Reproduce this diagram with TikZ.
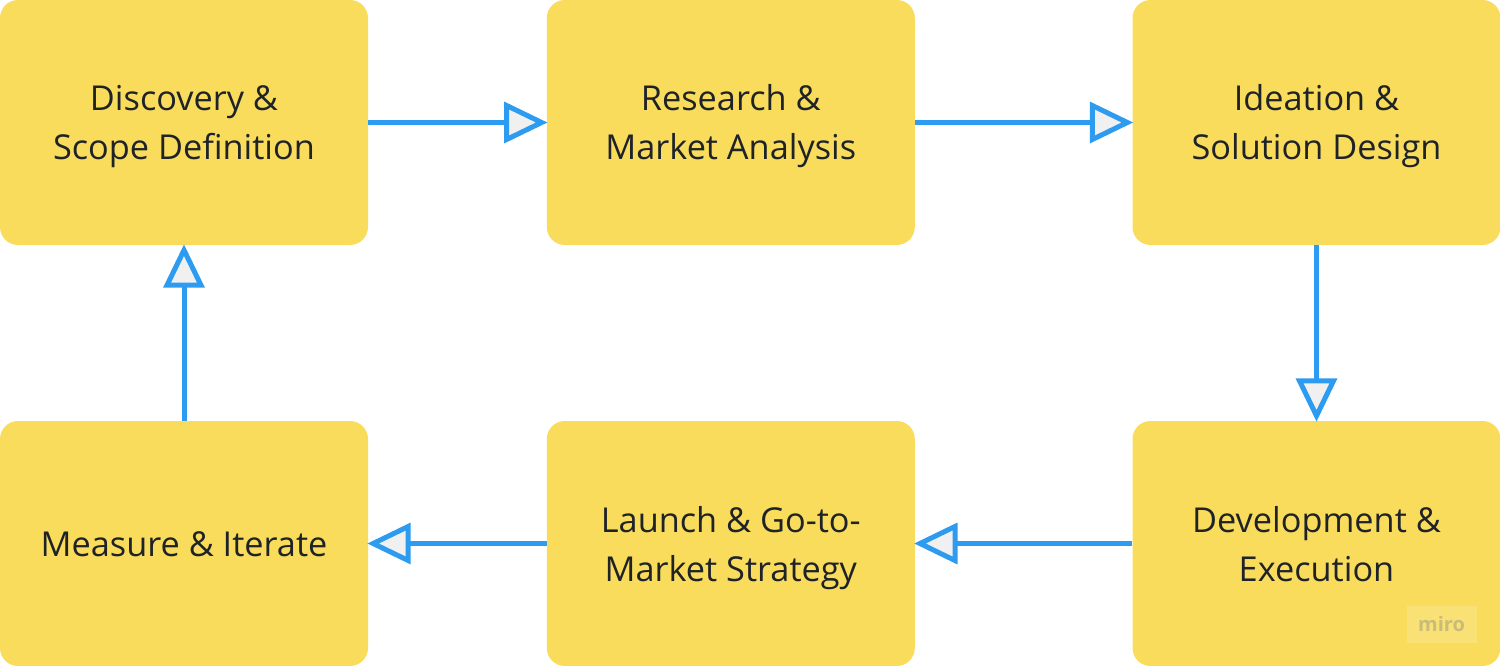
\documentclass[tikz,border=0pt]{standalone}
\usepackage{fontspec}
\setmainfont{Open Sans}
\definecolor{boxy}{HTML}{F9DC5C}
\definecolor{arrowb}{HTML}{2D9BF0}
\definecolor{tipf}{HTML}{F0F0F0}
\definecolor{txt}{HTML}{1F2328}
\definecolor{wmfill}{HTML}{F9E175}
\definecolor{wmtext}{HTML}{C9BC78}
\newcommand{\topstrutA}{\rule{0pt}{33pt}}
\newcommand{\topstrutB}{\rule{0pt}{35pt}}
\newcommand{\botstrut}{\rule[-8pt]{0pt}{8pt}}
\begin{document}
\begin{tikzpicture}[x=1pt,y=-1pt,
 stagebox/.style={fill=boxy,rounded corners=18pt,minimum width=368pt,minimum height=245pt,inner sep=0pt,align=center,font=\fontsize{34.3pt}{49pt}\selectfont,text=txt,anchor=center},
 flow/.style={draw=arrowb,line width=5pt},
 tipshape/.style={draw=arrowb,line width=5pt,fill=tipf,line join=miter}]
\useasboundingbox (0,0) rectangle (1500,666);
\node[stagebox] (a) at (184,122.5) {\topstrutA Discovery \&\\Scope Definition\botstrut};
\node[stagebox] (b) at (730.8,122.5) {\topstrutA Research \&\\Market Analysis\botstrut};
\node[stagebox] (c) at (1316.5,122.5) {\topstrutA Ideation \&\\Solution Design\botstrut};
\node[stagebox] (d) at (1316.5,543.5) {\topstrutB Development \&\\Execution\botstrut};
\node[stagebox] (e) at (730.8,543.5) {\topstrutB Launch \& Go-to-\\Market Strategy\botstrut};
\node[stagebox] (f) at (184,543.5) {\rule{0pt}{33pt}Measure \& Iterate\botstrut};
\node[font=\fontsize{20pt}{20pt}\selectfont\bfseries,text=wmtext,fill=wmfill,minimum width=70pt,minimum height=37pt,inner sep=0pt] (m) at (1441.5,624) {miro};
% connectors: each ends at the base of its hollow tip
\coordinate (abt) at ([xshift=-5pt]b.west);
\coordinate (bct) at ([xshift=-5pt]c.west);
\coordinate (cdt) at ([yshift=5pt]d.north);
\coordinate (det) at ([xshift=5pt]e.east);
\coordinate (eft) at ([xshift=5pt]f.east);
\coordinate (fat) at ([yshift=-5pt]a.south);
\draw[flow] (a.east) -- ([xshift=-36pt]abt);
\draw[tipshape] (abt) -- ++(-35,-17) -- ++(0,34) -- cycle;
\draw[flow] (b.east) -- ([xshift=-36pt]bct);
\draw[tipshape] (bct) -- ++(-35,-17) -- ++(0,34) -- cycle;
\draw[flow] (c.south) -- ([yshift=36pt]cdt);
\draw[tipshape] (cdt) -- ++(-17,-35) -- ++(34,0) -- cycle;
\draw[flow] (d.west) -- ([xshift=36pt]det);
\draw[tipshape] (det) -- ++(35,-17) -- ++(0,34) -- cycle;
\draw[flow] (e.west) -- ([xshift=36pt]eft);
\draw[tipshape] (eft) -- ++(35,-17) -- ++(0,34) -- cycle;
\draw[flow] (f.north) -- ([yshift=-36pt]fat);
\draw[tipshape] (fat) -- ++(-17,35) -- ++(34,0) -- cycle;
\end{tikzpicture}
\end{document}
